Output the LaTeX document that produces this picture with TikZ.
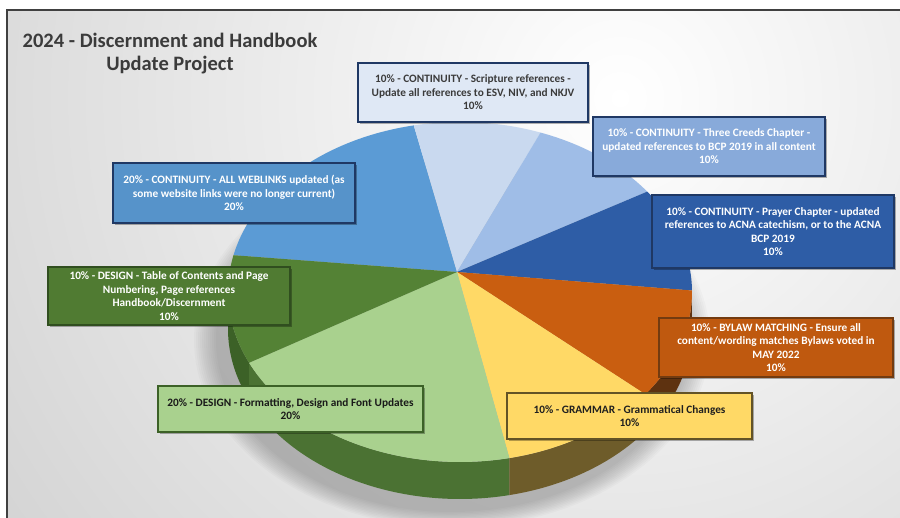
\documentclass[tikz,border=0pt]{standalone}
\usepackage{fontspec}
\setmainfont{Carlito}
\usetikzlibrary{shadows}

\definecolor{sl_blue}{HTML}{5B9BD5}
\definecolor{sl_pale}{HTML}{C9D9EF}
\definecolor{sl_light}{HTML}{9FBDE7}
\definecolor{sl_dark}{HTML}{2E5DA6}
\definecolor{sl_orange}{HTML}{C95E10}
\definecolor{sl_yellow}{HTML}{FFD966}
\definecolor{sl_lgreen}{HTML}{A9D18E}
\definecolor{sl_dgreen}{HTML}{548235}
\definecolor{sd_dgreen}{HTML}{3C6127}
\definecolor{sd_lgreen}{HTML}{4B7233}
\definecolor{sd_yellow}{HTML}{6E5C2A}
\definecolor{sd_orange}{HTML}{5E3210}
\definecolor{navy}{HTML}{1F3864}
\definecolor{textgray}{HTML}{3B3B3B}

% pie geometry (1 unit = 1pt = 1px)
\def\cx{460}\def\cy{226}\def\rx{232}\def\ry{170}\def\dep{37}
\newcommand{\pieSlice}[3]{\fill[#1] (apex) -- ({\cx+\rx*cos(#2)},{\cy+\ry*sin(#2)}) arc[start angle=#2, end angle=#3, x radius=\rx pt, y radius=\ry pt] -- cycle;}
\newcommand{\pieSide}[3]{\fill[#1] ({\cx+\rx*cos(#2)},{\cy+\ry*sin(#2)}) arc[start angle=#2, end angle=#3, x radius=\rx pt, y radius=\ry pt] -- ++(0,-\dep) arc[start angle=#3, end angle=#2, x radius=\rx pt, y radius=\ry pt] -- cycle;}

\begin{document}
\begin{tikzpicture}[x=1pt, y=1pt,
			lbl/.style = {draw, rectangle, line width=1.4pt, align=center, inner sep=0pt, font=\bfseries\fontsize{11.3}{13.5}\selectfont, drop shadow={shadow xshift=2pt, shadow yshift=-2pt, opacity=0.3, fill=black}},
			title/.style = {align=center, text=textgray, font=\bfseries\fontsize{20.5}{23.5}\selectfont},]
			\useasboundingbox (0,0) rectangle (900,518);
			
			%% BACKGROUND AND FRAME
			\fill[white] (0,0) rectangle (900,518);
			\begin{scope}
				\clip (7,0) rectangle (900,508);
				\shade[inner color=white, outer color=black!17] (620,420) circle (760pt);
				% soft shadow under the pie
				\foreach \s in {0,2,...,22}
					\fill[black, opacity=0.018] (452,178) ellipse [x radius={(236+\s)*1pt}, y radius={(172+0.7*\s)*1pt}];
			\end{scope}
			\draw[line width=2pt, black!75] (7,0) -- (7,508) -- (900,508);
			
			\node[title] (title) at (170,464.5) {2024 - Discernment and Handbook\\Update Project};
			
			%% PIE SIDE
			\pieSide{sd_dgreen}{180}{204.6}
			\pieSide{sd_lgreen}{204.6}{282.3}
			\pieSide{sd_yellow}{282.3}{323}
			\pieSide{sd_orange}{323}{360.5}
			
			%% PIE TOP
			\coordinate (apex) at (457,246);
			\pieSlice{sl_blue}{101.5}{167.5}
			\pieSlice{sl_pale}{69.7}{101.5}
			\pieSlice{sl_light}{36.2}{69.7}
			\pieSlice{sl_dark}{0.5}{36.2}
			\pieSlice{sl_orange}{-37}{0.5}
			\pieSlice{sl_yellow}{-77.7}{-37}
			\pieSlice{sl_lgreen}{-155.4}{-77.7}
			\pieSlice{sl_dgreen}{167.5}{204.6}
			
			%% LABELS
			\node[lbl, fill=sl_pale!60!white, draw=navy, text=textgray, minimum width=230pt, minimum height=59pt] (lbl_scripture) at (473,425.5) {10\% - CONTINUITY - Scripture references -\\Update all references to ESV, NIV, and NKJV\\10\%};
			\node[lbl, fill=sl_light!80!sl_dark, draw=navy, text=white, minimum width=232pt, minimum height=59pt] (lbl_creeds) at (709,371.5) {10\% - CONTINUITY - Three Creeds Chapter -\\updated references to BCP 2019 in all content\\10\%};
			\node[lbl, fill=sl_dark, draw=navy, text=white, minimum width=242pt, minimum height=73pt] (lbl_prayer) at (773,286.5) {10\% - CONTINUITY - Prayer Chapter - updated\\references to ACNA catechism, or to the ACNA\\BCP 2019\\10\%};
			\node[lbl, fill=sl_blue!95!black, draw=navy, text=white, minimum width=242pt, minimum height=60pt] (lbl_weblinks) at (234,325) {20\% - CONTINUITY - ALL WEBLINKS updated (as\\some website links were no longer current)\\20\%};
			\node[lbl, fill=sl_dgreen!95!black, draw=sd_dgreen!80!black, text=white, minimum width=242pt, minimum height=58pt] (lbl_toc) at (169,222) {10\% - DESIGN - Table of Contents and Page\\Numbering, Page references\\Handbook/Discernment\\10\%};
			\node[lbl, fill=sl_lgreen, draw=sd_dgreen, text=black!90, minimum width=265pt, minimum height=46pt] (lbl_format) at (290.5,109) {20\% - DESIGN - Formatting, Design and Font Updates\\20\%};
			\node[lbl, fill=sl_orange!95!black, draw=sd_orange!80!sl_orange, text=white, minimum width=234pt, minimum height=59pt] (lbl_bylaw) at (776,170.5) {10\% - BYLAW MATCHING - Ensure all\\content/wording matches Bylaws voted in\\MAY 2022\\10\%};
			\node[lbl, fill=sl_yellow, draw=sd_yellow!90!black, text=black!88, minimum width=245pt, minimum height=46pt] (lbl_grammar) at (629.5,102) {10\% - GRAMMAR - Grammatical Changes\\10\%};
\end{tikzpicture}
\end{document}
